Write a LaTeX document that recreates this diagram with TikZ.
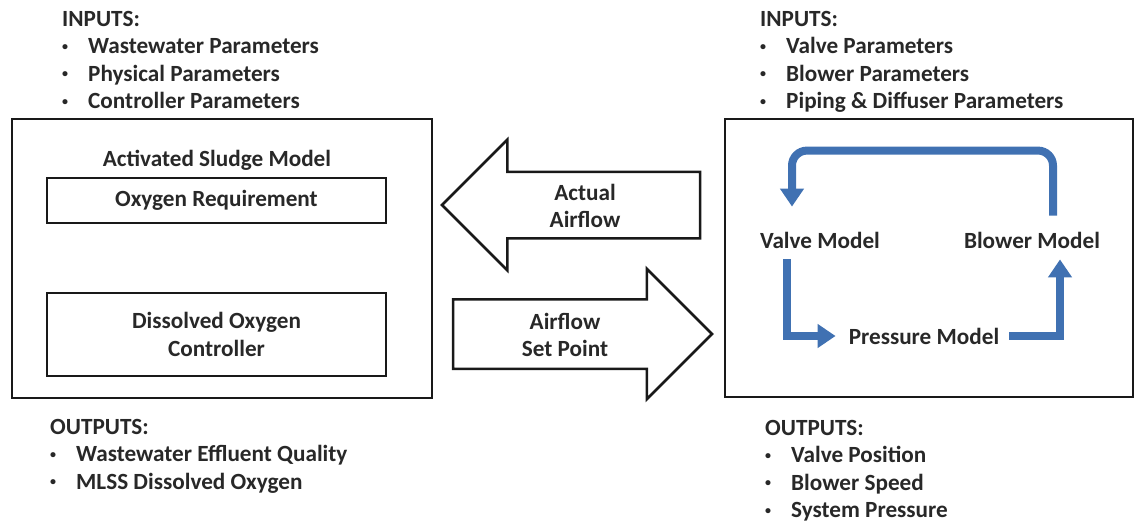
\documentclass[tikz,border=0pt]{standalone}
\usepackage{fontspec}
\setmainfont{Carlito}
\usetikzlibrary{arrows.meta,shapes.arrows}
\definecolor{txtgray}{RGB}{40,40,40}
\definecolor{loopblue}{RGB}{64,113,178}
\tikzset{
  txt/.style={text=txtgray,font=\bfseries\fontsize{23.2}{27.5}\selectfont,inner sep=0pt},
  box/.style={rectangle,draw=black!90,line width=2.5pt,txt},
  bigarrow/.style={single arrow,draw=black!90,line width=2.5pt,minimum width=128pt,inner xsep=0pt,outer sep=0pt,anchor=tip},
  flow/.style={draw=loopblue,line width=8pt,-{Triangle[width=23pt,length=18pt]}},
}
\newcommand{\itm}{\makebox[26pt][l]{\raisebox{3.5pt}{\fontsize{12}{12}\selectfont\textbullet}}}
\begin{document}
\begin{tikzpicture}[x=1pt,y=-1pt]
\useasboundingbox (0,0) rectangle (1138,525);
% inputs and outputs
\node (LIN) at (62,26) [txt,anchor=base west] {\begin{tabular}[t]{@{}l@{}l@{}}\multicolumn{2}{@{}l@{}}{INPUTS:}\\ \itm & Wastewater Parameters\\ \itm & Physical Parameters\\ \itm & Controller Parameters\end{tabular}};
\node (RIN) at (760,26) [txt,anchor=base west] {\begin{tabular}[t]{@{}l@{}l@{}}\multicolumn{2}{@{}l@{}}{INPUTS:}\\ \itm & Valve Parameters\\ \itm & Blower Parameters\\ \itm & Piping \& Diffuser Parameters\end{tabular}};
\node (LOUT) at (50,434) [txt,anchor=base west] {\begin{tabular}[t]{@{}l@{}l@{}}\multicolumn{2}{@{}l@{}}{OUTPUTS:}\\ \itm & Wastewater Effluent Quality\\ \itm & MLSS Dissolved Oxygen\end{tabular}};
\node (ROUT) at (765,435) [txt,anchor=base west] {\begin{tabular}[t]{@{}l@{}l@{}}\multicolumn{2}{@{}l@{}}{OUTPUTS:}\\ \itm & Valve Position\\ \itm & Blower Speed\\ \itm & System Pressure\end{tabular}};
% activated sludge model
\node (ASM) at (222,258.5) [box,minimum width=420pt,minimum height=279pt] {};
\node (ASMT) at (217,160) [txt] {Activated Sludge Model};
\node (OR) at (216.5,200.5) [box,minimum width=339pt,minimum height=45pt] {Oxygen Requirement};
\node (DOC) at (216.5,334.5) [box,minimum width=339pt,minimum height=83pt,align=center] {Dissolved Oxygen\\Controller};
% aeration system
\node (ABS) at (929,258) [box,minimum width=408pt,minimum height=278pt] {};
\node (VM) at (820,240) [txt] {Valve Model};
\node (BM) at (1032,240) [txt] {Blower Model};
\node (PM) at (924,336) [txt] {Pressure Model};
\draw[flow,rounded corners=15pt] ([shift={(21,-16)}]BM.north) -- ++(0,-65) -| ([shift={(-28,-25)}]VM.north);
\draw[flow] ([shift={(-33,11)}]VM.south) |- ([shift={(-13,0)}]PM.west);
\draw[flow] ([shift={(10,0)}]PM.east) -| ([shift={(28,11)}]BM.south);
% exchange between the models
\node (AA) at (442,205) [bigarrow,shape border rotate=180,minimum height=258pt,inner ysep=32pt,single arrow head extend=32pt] {};
\node (ASP) at (712,334) [bigarrow,minimum height=259pt,inner ysep=33.5pt,single arrow head extend=30.5pt] {};
\node (AAT) at (585,206) [txt,align=center] {Actual\\Airflow};
\node (ASPT) at (565,335) [txt,align=center] {Airflow\\Set Point};
\end{tikzpicture}
\end{document}
